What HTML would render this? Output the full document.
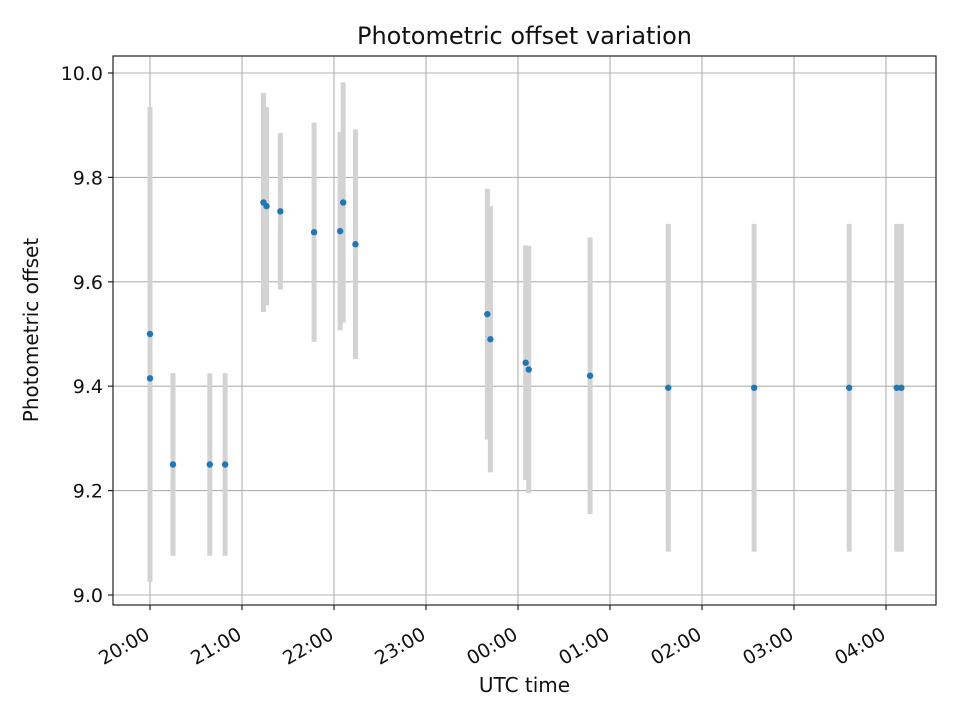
<!DOCTYPE html>
<html><head><meta charset="utf-8"><style>
html,body{margin:0;padding:0;background:#fff;}
svg{display:block;font-family:"DejaVu Sans","Liberation Sans",sans-serif;}
</style></head><body>
<svg id="chart" width="960" height="720" viewBox="0 0 960 720" xmlns="http://www.w3.org/2000/svg">
<rect x="0" y="0" width="960" height="720" fill="#fff"/>
<g id="grid"></g>
<g id="bars"></g>
<g id="pts"></g>
<rect x="113" y="56" width="823" height="549" fill="none" stroke="#222" stroke-width="1.2"/>
<g id="ticks"></g>
<text x="524.5" y="44" text-anchor="middle" font-size="24" fill="#111">Photometric offset variation</text>
<text x="524.5" y="692" text-anchor="middle" font-size="20" fill="#111">UTC time</text>
<text x="38" y="330" text-anchor="middle" font-size="20" fill="#111" transform="rotate(-90 38 330)">Photometric offset</text>
</svg>
<script>
// minutes since 20:00 UTC
const times = [0, 0, 15, 39, 49, 74, 76, 85, 107, 124, 126, 134, 220, 222, 245, 247, 287, 338, 394, 456, 487, 490];
const offsets = [9.50, 9.415, 9.25, 9.25, 9.25, 9.752, 9.745, 9.735, 9.695, 9.697, 9.752, 9.672, 9.538, 9.49, 9.445, 9.432, 9.42, 9.397, 9.397, 9.397, 9.397, 9.397];
const errors = [0.435, 0.39, 0.175, 0.175, 0.175, 0.21, 0.19, 0.15, 0.21, 0.19, 0.23, 0.22, 0.24, 0.255, 0.225, 0.237, 0.265, 0.314, 0.314, 0.314, 0.314, 0.314];
const yTicks = [9.0, 9.2, 9.4, 9.6, 9.8, 10.0];
const xTickLabels = ["20:00","21:00","22:00","23:00","00:00","01:00","02:00","03:00","04:00"];

const NS = "http://www.w3.org/2000/svg";
const X = m => 150 + m * 92 / 60;
const Y = v => 73 + (10 - v) * 522;
function mk(tag, attrs, parent){ const e=document.createElementNS(NS,tag); for(const k in attrs) e.setAttribute(k,attrs[k]); parent.appendChild(e); return e; }
const grid=document.getElementById('grid'), bars=document.getElementById('bars'), pts=document.getElementById('pts'), ticks=document.getElementById('ticks');

yTicks.forEach(v=>{
  const y=Y(v);
  const g=mk('line',{x1:113,x2:936,y1:y,y2:y,stroke:'#b0b0b0','stroke-width':1.1},grid);
  
  
  mk('line',{x1:108,x2:113,y1:y,y2:y,stroke:'#222','stroke-width':1.2},ticks);
  const t=mk('text',{x:103,y:y+7,'text-anchor':'end','font-size':19,fill:'#111'},ticks);
  t.textContent=v.toFixed(1);
  
  
});
xTickLabels.forEach((lab,i)=>{
  const x=X(i*60);
  const g=mk('line',{x1:x,x2:x,y1:56,y2:605,stroke:'#b0b0b0','stroke-width':1.1},grid);
  
  
  mk('line',{x1:x,x2:x,y1:605,y2:610,stroke:'#222','stroke-width':1.2},ticks);
  const t=mk('text',{x:x+1,y:638,'text-anchor':'end','font-size':19,fill:'#111',transform:`rotate(-30 ${x+1} 638)`},ticks);
  t.textContent=lab;
  
  
});
times.forEach((m,i)=>{
  const x=X(m);
  const b=mk('rect',{x:x-2.5,y:Y(offsets[i]+errors[i]),width:5,height:errors[i]*2*522,fill:'#d3d3d3'},bars);
  
  
  const c=mk('circle',{cx:x,cy:Y(offsets[i]),r:3.2,fill:'#1f77b4'},pts);
  
  
});
</script>
</body></html>
